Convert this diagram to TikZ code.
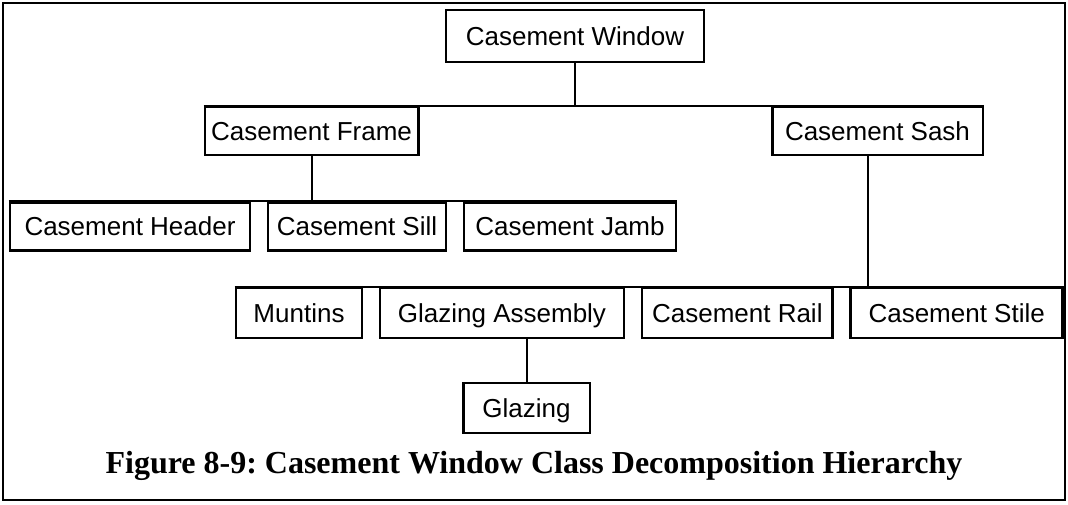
\documentclass[tikz,border=0pt]{standalone}
\usepackage{fontspec}
\setmainfont{Liberation Serif}
\setsansfont{Liberation Sans}
\usetikzlibrary{positioning}
\frenchspacing

\begin{document}
\begin{tikzpicture}[
    x=0.75pt, y=-0.75pt,
    node distance=11.5pt,
    cls/.style={rectangle, draw, line width=2pt, font=\sffamily\fontsize{19.5}{24}\selectfont, minimum height=36pt, inner xsep=3pt, text height=14pt, text depth=0pt},
    link/.style={line width=1.5pt}
]

\useasboundingbox (0,0) rectangle (1068,504);
\draw [line width=1.5pt] (3,3) rectangle (1065,500);

% Top level
\node (window) [cls, minimum width=193.5pt, minimum height=39pt] at (575,36) {Casement Window};

% Frame and Sash
\node (frame) [cls, minimum width=160pt] at (311.5,131) {Casement Frame};
\node (sash) [cls, minimum width=158pt] at (877.5,131) {Casement Sash};

% Frame parts
\node (header) [cls, minimum width=180pt] at (130,226.5) {Casement Header};
\node (sill) [cls, minimum width=133.5pt, right=of header] {Casement Sill};
\node (jamb) [cls, minimum width=159pt, right=of sill] {Casement Jamb};

% Sash parts
\node (muntins) [cls, minimum width=94.5pt, minimum height=37.5pt] at (299,313) {Muntins};
\node (assembly) [cls, minimum width=183pt, minimum height=37.5pt, right=of muntins] {Glazing Assembly};
\node (rail) [cls, minimum width=143pt, minimum height=37.5pt, right=of assembly] {Casement Rail};
\node (stile) [cls, minimum width=159pt, minimum height=37.5pt, right=of rail] {Casement Stile};

% Assembly part
\node (glazing) [cls, minimum width=95pt, minimum height=37.5pt] at (526.5,408) {Glazing};

% Caption
\node (caption) at (534,466) {\fontsize{24}{28}\selectfont\bfseries Figure 8-9: Casement Window Class Decomposition Hierarchy};

% Connecting lines
\draw [link] (window.south) -- (window.south |- frame.north);
\draw [link] (frame.north west) -- (sash.north east);
\draw [link] (frame.south) -- (frame.south |- header.north);
\draw [link] (header.north west) -- (jamb.north east);
\draw [link] ([xshift=-7pt]sash.south) -- ([xshift=-7pt]sash.south |- muntins.north);
\draw [link] (muntins.north west) -- (stile.north east);
\draw [link] (glazing.north) -- (glazing.north |- assembly.south);

\end{tikzpicture}
\end{document}
